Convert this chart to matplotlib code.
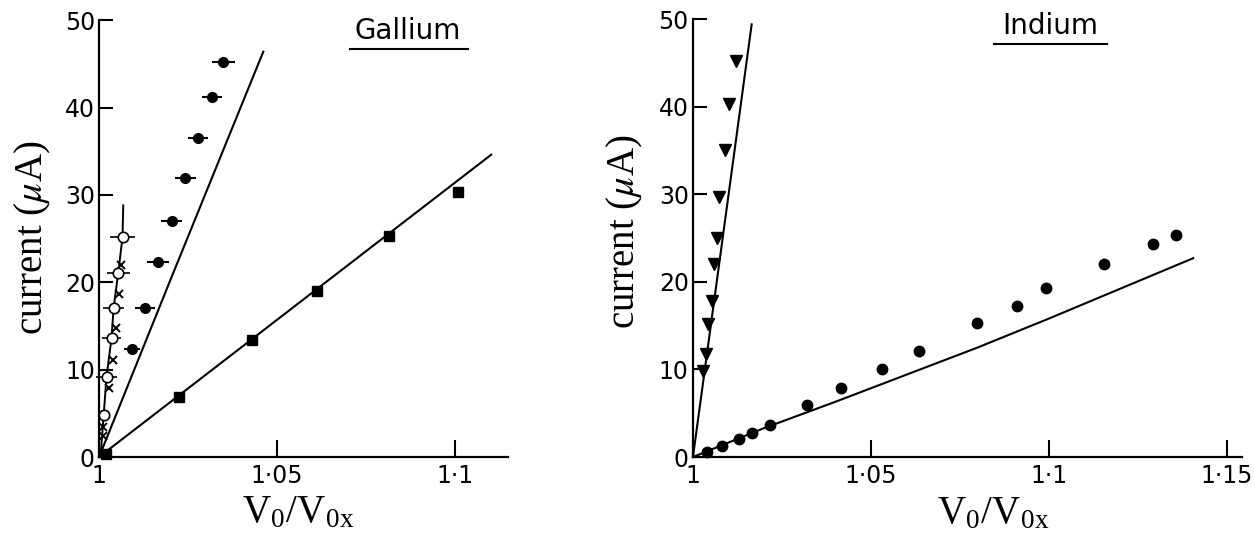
import matplotlib.pyplot as plt

plt.rcParams["mathtext.fontset"] = "stix"
plt.rcParams["font.family"] = "DejaVu Sans"

# ---- Gallium data ----
# filled circles with horizontal error bars
ga_dot_x = [1.0092, 1.0128, 1.0166, 1.0204, 1.0243, 1.0278, 1.0318, 1.0350]
ga_dot_y = [12.4, 17.0, 22.3, 27.0, 31.9, 36.5, 41.2, 45.2]
ga_dot_xerr = [0.0022, 0.0028, 0.0030, 0.0029, 0.0030, 0.0028, 0.0029, 0.0031]

# open circles with error bars, joined by a line
ga_open_x = [1.0013, 1.0021, 1.0035, 1.0041, 1.0054, 1.0066]
ga_open_y = [4.8, 9.2, 13.6, 17.1, 21.1, 25.2]
ga_open_xerr = [0.0, 0.0030, 0.0028, 0.0030, 0.0032, 0.0034]
ga_open_line_x = [1.0004, 1.0013, 1.0021, 1.0035, 1.0041, 1.0054, 1.0066, 1.0068]
ga_open_line_y = [0.0, 4.8, 9.2, 13.6, 17.1, 21.1, 25.2, 28.8]

# crosses
ga_cross_x = [1.0010, 1.0012, 1.0028, 1.0038, 1.0049, 1.0056, 1.0063]
ga_cross_y = [2.4, 3.4, 7.9, 11.1, 14.8, 18.7, 22.0]

# filled squares and their fitted line
ga_sq_x = [1.0020, 1.0224, 1.0430, 1.0612, 1.0815, 1.1010]
ga_sq_y = [0.3, 6.9, 13.4, 19.0, 25.3, 30.3]
ga_fit_x = [1.0, 1.1103]
ga_fit_y = [0.0, 34.6]

# theory curve
ga_curve_x = [1.0, 1.020, 1.0462]
ga_curve_y = [0.0, 20.2, 46.4]

# ---- Indium data ----
in_tri_x = [1.0027, 1.0037, 1.0043, 1.0053, 1.0060, 1.0067, 1.0074, 1.0090, 1.0102, 1.0121]
in_tri_y = [9.8, 11.8, 15.2, 17.8, 22.0, 25.0, 29.7, 35.1, 40.3, 45.2]
in_steep_x = [1.0, 1.0165]
in_steep_y = [0.0, 49.4]

in_dot_x = [1.0040, 1.0081, 1.0130, 1.0165, 1.0216, 1.0320, 1.0415, 1.0530, 1.0635,
            1.0797, 1.0910, 1.0992, 1.1155, 1.1292, 1.1357]
in_dot_y = [0.6, 1.3, 2.1, 2.7, 3.6, 5.9, 7.9, 10.1, 12.1,
            15.3, 17.2, 19.3, 22.0, 24.3, 25.4]
in_curve_x = [1.0, 1.020, 1.040, 1.060, 1.080, 1.100, 1.120, 1.1406]
in_curve_y = [0.0, 3.3, 6.3, 9.4, 12.5, 15.8, 19.2, 22.7]

ga_xticks = [1.0, 1.05, 1.1]
ga_xlabels = ["1", "1\u00b705", "1\u00b71"]
in_xticks = [1.0, 1.05, 1.1, 1.15]
in_xlabels = ["1", "1\u00b705", "1\u00b71", "1\u00b715"]
yticks = [0, 10, 20, 30, 40, 50]

fig = plt.figure(figsize=(12.54, 5.46), dpi=100)
ax1 = fig.add_axes([0.079, 0.163, 0.326, 0.800])
ax2 = fig.add_axes([0.5526, 0.163, 0.4378, 0.802])


def style(ax, xticks, xlabels, xmax):
    ax.set_xlim(1.0, xmax)
    ax.set_ylim(0, 50)
    for s in ["top", "right"]:
        ax.spines[s].set_visible(False)
    for s in ["left", "bottom"]:
        ax.spines[s].set_linewidth(1.6)
    ax.set_xticks(xticks)
    ax.set_xticklabels(xlabels)
    ax.set_yticks(yticks)
    ax.tick_params(axis="both", direction="in", width=1.5, labelsize=17)
    ax.tick_params(axis="x", length=12, pad=5)
    ax.tick_params(axis="y", length=10, pad=3)
    ax.set_ylabel(r"current ($\mu$A)", family="Liberation Serif", fontsize=28, va="center")
    ax.set_xlabel(r"V$_\mathregular{0}$/V$_\mathregular{0x}$", family="Liberation Serif",
                  fontsize=28, va="center")


style(ax1, ga_xticks, ga_xlabels, 1.115)
style(ax2, in_xticks, in_xlabels, 1.1543)
ax1.yaxis.set_label_coords(-0.161, 0.503)
ax1.xaxis.set_label_coords(0.487, -0.13)
ax2.yaxis.set_label_coords(-0.124, 0.514)
ax2.xaxis.set_label_coords(0.546, -0.13)

# Gallium
ax1.plot(ga_curve_x, ga_curve_y, color="black", lw=1.5, clip_on=False)
ax1.plot(ga_fit_x, ga_fit_y, color="black", lw=1.5, clip_on=False)
ax1.plot(ga_sq_x, ga_sq_y, "s", color="black", ms=7, clip_on=False)
ax1.errorbar(ga_dot_x, ga_dot_y, xerr=ga_dot_xerr, fmt="o", color="black", ms=7,
             elinewidth=1.5, capsize=0, clip_on=False)
ax1.plot(ga_open_line_x, ga_open_line_y, color="black", lw=1.4, clip_on=False)
ax1.errorbar(ga_open_x, ga_open_y, xerr=ga_open_xerr, fmt="o", color="black", mfc="white",
             ms=7.5, mew=1.2, elinewidth=1.2, capsize=0, clip_on=False)
ax1.plot(ga_cross_x, ga_cross_y, "x", color="black", ms=6, mew=1.4, clip_on=False)

ax1.text(0.754, 0.975, "Gallium", transform=ax1.transAxes, ha="center", va="center",
         fontsize=20)
ax1.plot([0.614, 0.902], [0.934, 0.934], transform=ax1.transAxes, color="black",
         lw=1.5, clip_on=False)

# Indium
ax2.plot(in_steep_x, in_steep_y, color="black", lw=1.5, clip_on=False)
ax2.plot(in_tri_x, in_tri_y, "v", color="black", ms=8, clip_on=False)
ax2.plot(in_curve_x, in_curve_y, color="black", lw=1.5, clip_on=False)
ax2.plot(in_dot_x, in_dot_y, "o", color="black", ms=7.5, clip_on=False)

ax2.text(0.650, 0.985, "Indium", transform=ax2.transAxes, ha="center", va="center",
         fontsize=20)
ax2.plot([0.548, 0.754], [0.944, 0.944], transform=ax2.transAxes, color="black",
         lw=1.5, clip_on=False)

fig.savefig("out.png", dpi=100)
